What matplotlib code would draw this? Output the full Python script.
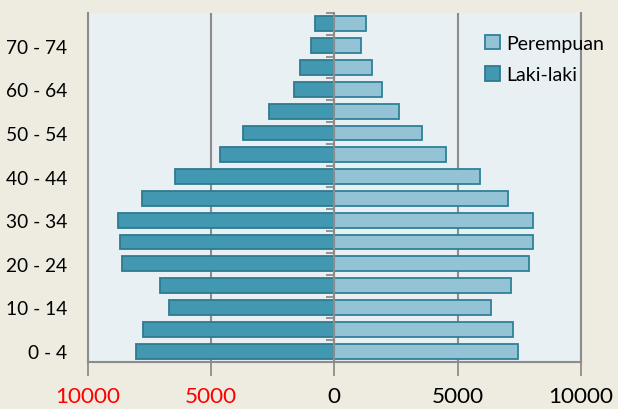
import matplotlib
matplotlib.use("Agg")
import matplotlib.pyplot as plt
import numpy as np

plt.rcParams['font.family'] = ['Lato', 'DejaVu Sans']

groups = ['0 - 4', '5 - 9', '10 - 14', '15 - 19', '20 - 24', '25 - 29', '30 - 34',
          '35 - 39', '40 - 44', '45 - 49', '50 - 54', '55 - 59', '60 - 64',
          '65 - 69', '70 - 74', '75+']
laki = [8040, 7770, 6730, 7070, 8620, 8700, 8790, 7800, 6480, 4660, 3690,
        2650, 1650, 1410, 950, 780]
perempuan = [7460, 7270, 6340, 7190, 7890, 8080, 8080, 7060, 5920, 4530, 3570,
             2620, 1920, 1530, 1070, 1280]
xticks = [-10000, -5000, 0, 5000, 10000]

bg = '#EEEBE0'
grey = '#8C8C8C'

fig = plt.figure(figsize=(6.18, 4.10), dpi=100, facecolor=bg)
ax = fig.add_axes([0.1424, 0.1146, 0.7972, 0.8513])
ax.set_facecolor('#E9F0F4')

y = np.arange(len(groups))
ax.barh(y, perempuan, height=0.68, color='#93C3D5', edgecolor='#2F8199',
        linewidth=1.3, label='Perempuan', zorder=3)
ax.barh(y, [-v for v in laki], height=0.68, color='#4298B0', edgecolor='#2E7A90',
        linewidth=1.3, label='Laki-laki', zorder=3)

ax.set_xlim(-10000, 10000)
ax.set_ylim(-0.5, len(groups) - 0.5)

# x axis
ax.set_xticks(xticks)
ax.set_xticklabels([str(abs(v)) for v in xticks], fontsize=16.2)
for lab, v in zip(ax.get_xticklabels(), xticks):
    lab.set_color('red' if v < 0 else 'black')
ax.tick_params(axis='x', length=10, width=1.3, color=grey, pad=7.5)
ax.grid(axis='x', color=grey, linewidth=1.5, zorder=1)

# spines
ax.spines['top'].set_visible(False)
ax.spines['right'].set_color(grey)
ax.spines['right'].set_linewidth(1.5)
ax.spines['bottom'].set_color(grey)
ax.spines['bottom'].set_linewidth(1.5)
ax.spines['left'].set_position(('data', 0))
ax.spines['left'].set_color(grey)
ax.spines['left'].set_linewidth(1.5)
ax.spines['left'].set_zorder(4)

# centre axis ticks
ax.set_yticks(np.arange(len(groups) + 1) - 0.5)
ax.set_yticklabels([])
ax.set_yticks(y, minor=True)
ax.tick_params(axis='y', which='major', direction='out', length=6, width=1.3, color=grey)
ax.tick_params(axis='y', which='minor', direction='in', length=4, width=1.3, color=grey)

# category labels on the left edge
sec = ax.secondary_yaxis(0)
sec.set_yticks(y[::2])
sec.set_yticklabels(groups[::2], fontsize=13.8)
sec.tick_params(length=0, pad=15)
sec.spines['left'].set_color(grey)
sec.spines['left'].set_linewidth(1.5)

handles, labels = ax.get_legend_handles_labels()
leg = ax.legend(handles, labels, loc='upper left', bbox_to_anchor=(0.79, 0.96),
                frameon=False, fontsize=14, handlelength=0.75, handleheight=0.75,
                handletextpad=0.35, labelspacing=0.75, borderaxespad=0)

fig.savefig('out.png', dpi=100, facecolor=bg)
